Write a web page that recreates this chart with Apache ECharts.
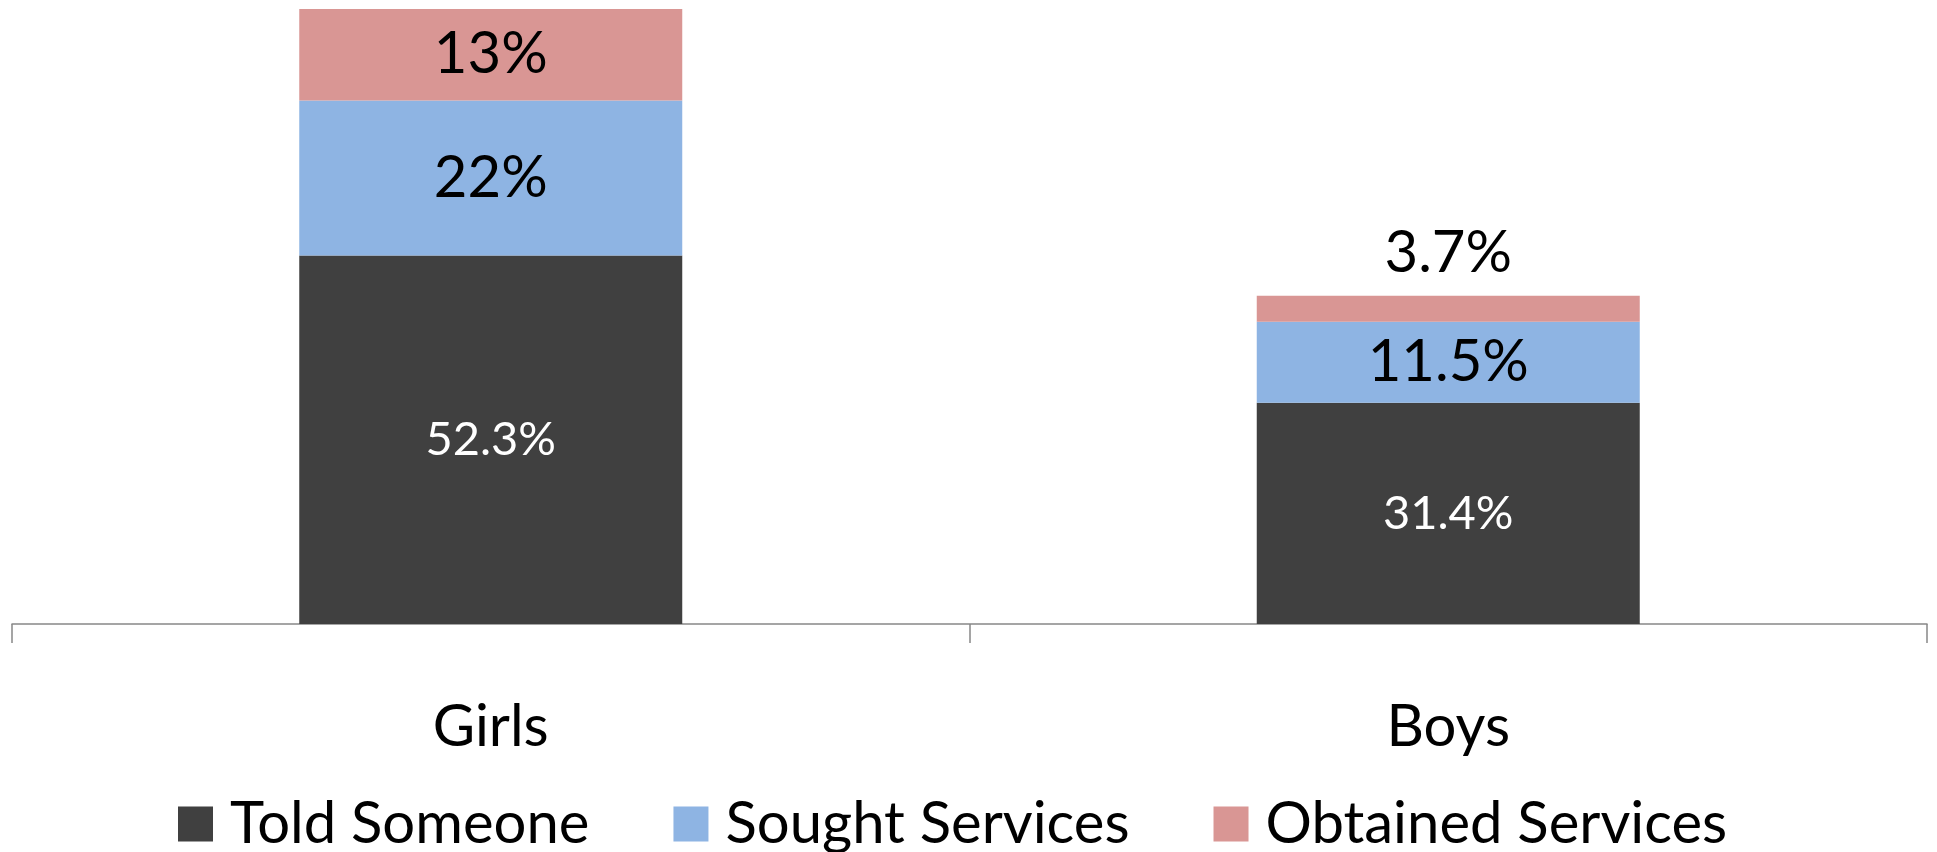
<!DOCTYPE html>
<html>
<head>
<meta charset="utf-8">
<script src="https://cdn.jsdelivr.net/npm/echarts@6/dist/echarts.min.js"></script>
<style>
    html, body { margin: 0; padding: 0; background: #fff; }
    #chart { width: 1937px; height: 852px; }
</style>
</head>
<body>
<div id="chart"></div>
<script>
// data
let categories = ['Girls', 'Boys']
let toldSomeone = [52.3, 31.4]
let soughtServices = [22, 11.5]
let obtainedServices = [13, 3.7]

let colors = ['#404040', '#8EB4E3', '#D99694']
let font = 'Lato, "Open Sans", sans-serif'

let myChart = echarts.init(document.getElementById('chart'))

// boys "obtained" slice is too thin, label goes above the bar
let obtainedData = obtainedServices.map((v, i) => {
    if (i === 1) {
        return { value: v, label: { position: 'top', distance: 13 } }
    }
    return v
})

let option = {
    animation: false,
    textStyle: { fontFamily: font },
    grid: {
        left: 12,
        right: 10,
        top: 9,
        bottom: 228
    },
    legend: {
        left: 178,
        top: 795,
        padding: 0,
        itemWidth: 35,
        itemHeight: 35,
        itemGap: 84,
        icon: 'rect',
        data: ['Told Someone', 'Sought Services', 'Obtained Services'],
        textStyle: {
            fontFamily: font,
            fontSize: 58,
            lineHeight: 35,
            color: '#000',
            padding: [0, 0, 0, 12]
        }
    },
    xAxis: {
        type: 'category',
        data: categories,
        axisLine: { lineStyle: { color: '#888888', width: 1.5 } },
        axisTick: { show: true, length: 19, lineStyle: { color: '#888888', width: 1.5 } },
        axisLabel: {
            color: '#000',
            fontFamily: font,
            fontSize: 58,
            margin: 74
        }
    },
    yAxis: {
        type: 'value',
        min: 0,
        max: 87.3,
        show: false,
        splitLine: { show: false }
    },
    series: [
        {
            name: 'Told Someone',
            type: 'bar',
            stack: 'total',
            barWidth: '40%',
            data: toldSomeone,
            itemStyle: { color: colors[0] },
            label: {
                show: true,
                position: 'inside',
                formatter: '{c}%',
                color: '#fff',
                fontFamily: font,
                fontSize: 47
            }
        },
        {
            name: 'Sought Services',
            type: 'bar',
            stack: 'total',
            barWidth: '40%',
            data: soughtServices,
            itemStyle: { color: colors[1] },
            label: {
                show: true,
                position: 'inside',
                formatter: '{c}%',
                color: '#000',
                fontFamily: font,
                fontSize: 58
            }
        },
        {
            name: 'Obtained Services',
            type: 'bar',
            stack: 'total',
            barWidth: '40%',
            data: obtainedData,
            itemStyle: { color: colors[2] },
            label: {
                show: true,
                position: 'inside',
                formatter: '{c}%',
                color: '#000',
                fontFamily: font,
                fontSize: 58
            }
        }
    ]
}

myChart.setOption(option)
window.addEventListener('resize', function () {
    myChart.resize()
})
</script>
</body>
</html>
